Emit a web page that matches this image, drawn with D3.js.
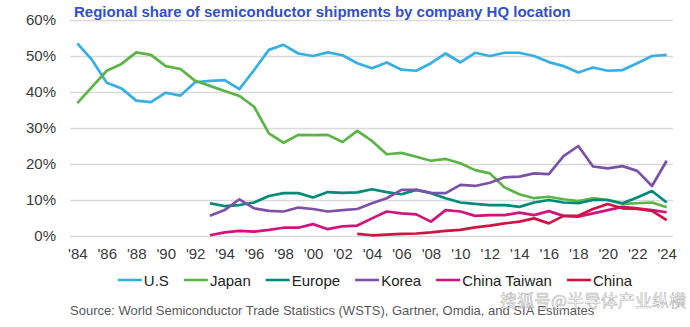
<!DOCTYPE html>
<html>
<head>
<meta charset="utf-8">
<script src="https://cdn.jsdelivr.net/npm/d3@7"></script>
<style>
  html, body { margin: 0; padding: 0; background: #fff; }
  svg { display: block; font-family: "Liberation Sans", Arial, sans-serif; }
</style>
</head>
<body>
<svg id="chart" width="690" height="327"></svg>
<script>
// Share of global semiconductor shipments (%) by company headquarters location
const years = d3.range(1984, 2025);
const usShare = [53.5, 48.9, 42.6, 41.0, 37.6, 37.2, 39.8, 39.0, 42.7, 43.1, 43.3, 40.8, 46.1, 51.7, 53.1, 50.7, 50.0, 51.0, 50.2, 48.0, 46.6, 48.2, 46.2, 45.9, 48.0, 50.7, 48.2, 50.9, 50.0, 50.9, 50.9, 50.0, 48.3, 47.2, 45.4, 46.8, 45.9, 46.1, 48.0, 50.0, 50.3];
const japanShare = [36.9, 41.4, 45.9, 47.8, 51.0, 50.3, 47.2, 46.4, 43.1, 41.7, 40.3, 38.9, 35.9, 28.5, 25.9, 28.1, 28.0, 28.1, 26.1, 29.2, 26.4, 22.7, 23.1, 22.0, 20.9, 21.4, 20.2, 18.3, 17.4, 13.5, 11.6, 10.5, 10.9, 10.2, 9.7, 10.5, 10.0, 8.9, 9.1, 9.3, 8.0];
const europeShare = [null, null, null, null, null, null, null, null, null, 9.1, 8.3, 8.6, 9.3, 11.1, 11.9, 11.9, 10.7, 12.2, 12.0, 12.1, 13.0, 12.2, 11.6, 12.8, 11.9, 10.5, 9.3, 8.9, 8.6, 8.6, 8.1, 9.3, 10.0, 9.3, 9.1, 10.0, 10.0, 9.1, 10.7, 12.5, 9.3];
const koreaShare = [null, null, null, null, null, null, null, null, null, 5.6, 7.2, 10.2, 7.7, 7.0, 6.8, 7.9, 7.5, 6.8, 7.2, 7.5, 9.1, 10.5, 12.8, 12.8, 12.0, 11.9, 14.2, 13.9, 14.8, 16.3, 16.5, 17.4, 17.2, 22.2, 25.0, 19.3, 18.8, 19.4, 18.1, 13.9, 20.9];
const taiwanShare = [null, null, null, null, null, null, null, null, null, 0.2, 1.0, 1.4, 1.2, 1.7, 2.3, 2.3, 3.3, 1.9, 2.7, 2.9, 4.9, 6.8, 6.3, 6.0, 4.0, 7.2, 6.8, 5.6, 5.8, 5.8, 6.5, 5.8, 6.9, 5.6, 5.4, 6.3, 7.2, 8.1, 7.7, 7.2, 6.6];
const chinaShare = [null, null, null, null, null, null, null, null, null, null, null, null, null, null, null, null, null, null, null, 0.6, 0.2, 0.4, 0.6, 0.7, 1.0, 1.4, 1.7, 2.4, 2.9, 3.5, 4.0, 4.9, 3.5, 5.6, 5.6, 7.5, 8.9, 7.7, 7.5, 7.0, 4.4];

const seriesNames = ["U.S", "Japan", "Europe", "Korea", "China Taiwan", "China"];
const seriesColors = ["#35afe4", "#5cb346", "#008a78", "#7b52a8", "#d0137d", "#d31244"];
const seriesValues = [usShare, japanShare, europeShare, koreaShare, taiwanShare, chinaShare];
const yTicks = [0, 10, 20, 30, 40, 50, 60];
const xTicks = d3.range(1984, 2025, 2);

const titleText = "Regional share of semiconductor shipments by company HQ location";
const sourceText = "Source: World Semiconductor Trade Statistics (WSTS), Gartner, Omdia, and SIA Estimates";
const watermarkText = "搜狐号@半导体产业纵横";

const svg = d3.select("#chart");
const plotLeft = 70, plotRight = 673, plotTop = 20, plotBottom = 236;

const x = d3.scaleLinear().domain([1984, 2024]).range([77.3, 666.7]);
const y = d3.scaleLinear().domain([0, 60]).range([plotBottom, plotTop]);

// Y axis with horizontal gridlines
const yAxis = svg.append("g")
  .attr("transform", `translate(${plotLeft},0)`)
  .call(d3.axisLeft(y).tickValues(yTicks).tickSize(-(plotRight - plotLeft)).tickPadding(14)
    .tickFormat(d => d + "%"));
yAxis.select(".domain").remove();
yAxis.selectAll(".tick line").attr("stroke", "#d9d9d9").attr("stroke-width", 1.5);
yAxis.selectAll(".tick text").attr("fill", "#3a3a3a").attr("font-size", 15)
  .attr("font-family", "Liberation Sans, Arial, sans-serif");

// X axis labels ('84 ... '24)
const xAxis = svg.append("g")
  .attr("transform", `translate(0,${plotBottom})`)
  .call(d3.axisBottom(x).tickValues(xTicks).tickSize(0).tickPadding(12)
    .tickFormat(d => "'" + String(d).slice(2)));
xAxis.select(".domain").remove();
xAxis.selectAll(".tick text").attr("fill", "#3a3a3a").attr("font-size", 15)
  .attr("font-family", "Liberation Sans, Arial, sans-serif");

// Series lines
const line = d3.line()
  .defined(d => d.v != null)
  .x(d => x(d.year))
  .y(d => y(d.v));

seriesValues.forEach((vals, i) => {
  const pts = years.map((yr, j) => ({ year: yr, v: vals[j] }));
  svg.append("path")
    .datum(pts)
    .attr("fill", "none")
    .attr("stroke", seriesColors[i])
    .attr("stroke-width", 2.7)
    .attr("stroke-linejoin", "round")
    .attr("d", line);
});

// Title
svg.append("text")
  .attr("x", 74).attr("y", 17)
  .attr("font-size", 15).attr("font-weight", "bold")
  .attr("fill", "#3050cc")
  .text(titleText);

// Legend, centred below the axis
const legend = svg.append("g");
const lineLen = 24, textGap = 2, entryGap = 15;
let cursor = 0;
seriesNames.forEach((name, i) => {
  const g = legend.append("g").attr("transform", `translate(${cursor},0)`);
  g.append("line").attr("x1", 0).attr("x2", lineLen).attr("y1", 0).attr("y2", 0)
    .attr("stroke", seriesColors[i]).attr("stroke-width", 2.6);
  const t = g.append("text").attr("x", lineLen + textGap).attr("y", 5.5)
    .attr("font-size", 15).attr("fill", "#222").text(name);
  cursor += lineLen + textGap + t.node().getComputedTextLength() + entryGap;
});
const legendWidth = cursor - entryGap;
legend.attr("transform", `translate(${375 - legendWidth / 2},280)`);

// Source note
svg.append("text")
  .attr("x", 70).attr("y", 315)
  .attr("font-size", 13).attr("fill", "#595959")
  .text(sourceText);

// Watermark
svg.append("text")
  .attr("x", 686).attr("y", 307)
  .attr("text-anchor", "end")
  .attr("font-size", 17)
  .attr("font-family", "Noto Sans CJK SC, sans-serif")
  .attr("fill", "#ffffff").attr("fill-opacity", 0.8)
  .attr("stroke", "#9a9a9a").attr("stroke-width", 0.6).attr("stroke-opacity", 0.75)
  .text(watermarkText);
</script>
</body>
</html>
